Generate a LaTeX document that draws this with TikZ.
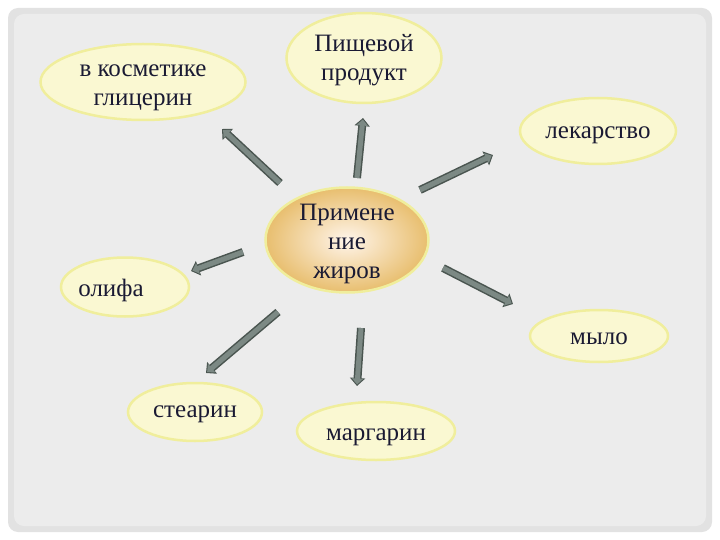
\documentclass[tikz,border=0pt]{standalone}
\usepackage{fontspec}
\setmainfont{Liberation Serif}
\newfontfamily\tnr{Liberation Serif}
\usetikzlibrary{shapes.geometric,arrows.meta}
\definecolor{txt}{HTML}{1A1A33}
\definecolor{efill}{HTML}{FAF8D2}
\definecolor{eborder}{HTML}{F0EE9C}
\definecolor{marble}{HTML}{E2E2E2}
\definecolor{arrowin}{HTML}{7C8984}
\definecolor{arrowout}{HTML}{4A5550}
\newcommand\tx[2][-10pt]{\raisebox{#1}[0pt][0pt]{\begin{tabular}{@{}c@{}}#2\end{tabular}}}
\tikzset{
  leaf/.style={ellipse, fill=efill, draw=eborder, line width=2.5pt, inner sep=0pt,
    font=\tnr\fontsize{25}{29}\selectfont, text=txt},
  hub/.style={ellipse, inner color=white!60!orange!20, outer color={rgb,255:red,232;green,190;blue,110},
    draw=eborder, line width=2.5pt, inner sep=0pt,
    font=\tnr\fontsize{25}{29}\selectfont, text=txt},
  arrout/.style={draw=arrowout, line width=8pt, -{Triangle[width=15pt,length=8pt]}},
  arrin/.style={draw=arrowin, line width=5pt, shorten >=1.5pt, -{Triangle[width=11pt,length=6pt]}}
}
\begin{document}
\begin{tikzpicture}[x=1pt,y=-1pt]
\useasboundingbox (0,0) rectangle (720,540);
\fill[white] (0,0) rectangle (720,540);
\fill[marble, rounded corners=10pt] (8,8) rectangle (712,532);
\fill[white, opacity=0.35, rounded corners=10pt] (14,14) rectangle (706,526);

\node[hub, minimum width=163pt, minimum height=105pt] (hub) at (347,240) {\tx{Примене\\ние\\жиров}};
\node[leaf, minimum width=205pt, minimum height=76pt] (kosm) at (143,82) {\tx[-9.5pt]{в косметике\\глицерин}};
\node[leaf, minimum width=155pt, minimum height=90pt] (pish) at (364,58) {\tx[-8pt]{Пищевой\\продукт}};
\node[leaf, minimum width=156pt, minimum height=66pt] (lek) at (598,131) {\tx[-8pt]{лекарство}};
\node[leaf, minimum width=128pt, minimum height=59pt] (olif) at (125,287) {\hspace*{-28pt}\tx{олифа}};
\node[leaf, minimum width=138pt, minimum height=52pt] (mylo) at (599,336) {\tx[-9pt]{мыло}};
\node[leaf, minimum width=134pt, minimum height=58pt] (stea) at (195,412) {\tx[-6pt]{стеарин}};
\node[leaf, minimum width=158pt, minimum height=58pt] (marg) at (376,431) {\tx[-10pt]{маргарин}};

\coordinate (s1) at (280,183); \coordinate (e1) at (222,129);
\coordinate (s2) at (357,178); \coordinate (e2) at (363,118);
\coordinate (s3) at (420,190); \coordinate (e3) at (493,155);
\coordinate (s4) at (243,252); \coordinate (e4) at (191,271);
\coordinate (s5) at (443,268); \coordinate (e5) at (513,304);
\coordinate (s6) at (278,312); \coordinate (e6) at (206,373);
\coordinate (s7) at (361,328); \coordinate (e7) at (357,386);
\foreach \i in {1,...,7}{
  \draw[arrout] (s\i) -- (e\i);
  \draw[arrin] (s\i) -- (e\i);
}
\end{tikzpicture}
\end{document}
